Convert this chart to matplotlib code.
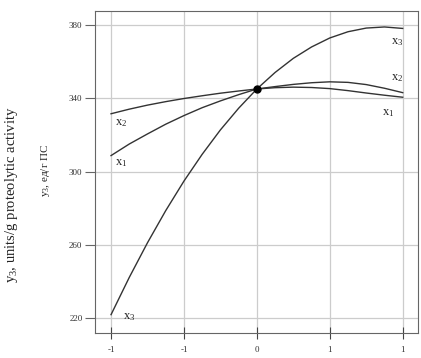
import matplotlib
matplotlib.use("Agg")
import matplotlib.pyplot as plt

plt.rcParams['font.family'] = ['Liberation Serif', 'DejaVu Serif']
plt.rcParams['mathtext.fontset'] = 'custom'
plt.rcParams['mathtext.rm'] = 'Liberation Serif'
plt.rcParams['mathtext.it'] = 'Liberation Serif'

x_vals = [-1, -0.875, -0.75, -0.625, -0.5, -0.375, -0.25, -0.125, 0,
          0.125, 0.25, 0.375, 0.5, 0.625, 0.75, 0.875, 1]
y_x1 = [308.7, 315.0, 320.5, 325.8, 330.5, 334.8, 338.5, 341.9, 345.0,
        345.7, 346.0, 345.8, 345.2, 344.1, 342.8, 341.6, 340.5]
y_x2 = [331.5, 334.0, 336.2, 338.1, 339.8, 341.3, 342.7, 343.9, 345.0,
        346.3, 347.5, 348.4, 348.9, 348.6, 347.4, 345.4, 343.0]
y_x3 = [222.0, 242.3, 261.2, 278.7, 294.8, 309.4, 322.7, 334.5, 345.0,
        354.0, 361.7, 367.9, 372.8, 376.2, 378.2, 378.8, 378.0]
center = (0, 345)

xticks = [-1, -0.5, 0, 0.5, 1]
xtick_labels = ["-1", "-1", "0", "1", "1"]
yticks = [220, 260, 300, 340, 380]

W, H = 421, 358
fig = plt.figure(figsize=(W / 100, H / 100), dpi=100)
ax = fig.add_axes([95 / W, 1 - 333 / H, (418 - 95) / W, (333 - 11) / H])

line_kw = dict(color='#333333', lw=1.0)
ax.plot(x_vals, y_x1, **line_kw)
ax.plot(x_vals, y_x2, **line_kw)
ax.plot(x_vals, y_x3, **line_kw)
ax.plot([center[0]], [center[1]], 'o', color='black', ms=5)

ax.set_xlim(-1.11, 1.105)
ax.set_ylim(212.0, 387.5)
ax.set_xticks(xticks)
ax.set_xticklabels(xtick_labels)
ax.set_yticks(yticks)
ax.grid(True, color='#cccccc', lw=0.9)
ax.set_axisbelow(True)
for s in ax.spines.values():
    s.set_color('#666666')
    s.set_linewidth(0.8)
ax.tick_params(axis='y', direction='out', length=7, width=0.8, color='#666666',
               labelsize=6.5, labelcolor='#333333', pad=2)
ax.tick_params(axis='x', direction='inout', length=8, width=0.8, color='#444444',
               labelsize=6.5, labelcolor='#333333', pad=5)

tkw = dict(fontsize=9, color='#222222')
ax.text(-0.97, 326.5, r'x$_2$', ha='left', va='center', **tkw)
ax.text(-0.97, 304.5, r'x$_1$', ha='left', va='center', **tkw)
ax.text(-0.92, 220.5, r'x$_3$', ha='left', va='center', **tkw)
ax.text(0.92, 370.5, r'x$_3$', ha='left', va='center', **tkw)
ax.text(0.92, 351.0, r'x$_2$', ha='left', va='center', **tkw)
ax.text(0.86, 332.0, r'x$_1$', ha='left', va='center', **tkw)

fig.text(12 / W, 1 - 195 / H, r'y$_3$, units/g proteolytic activity', rotation=90,
         ha='center', va='center', fontsize=10.5, color='#222222')
fig.text(46 / W, 1 - 170 / H, r'y$_3$, ед/г ПС', rotation=90,
         ha='center', va='center', fontsize=8, color='#222222')

fig.savefig('out.png', dpi=100)
